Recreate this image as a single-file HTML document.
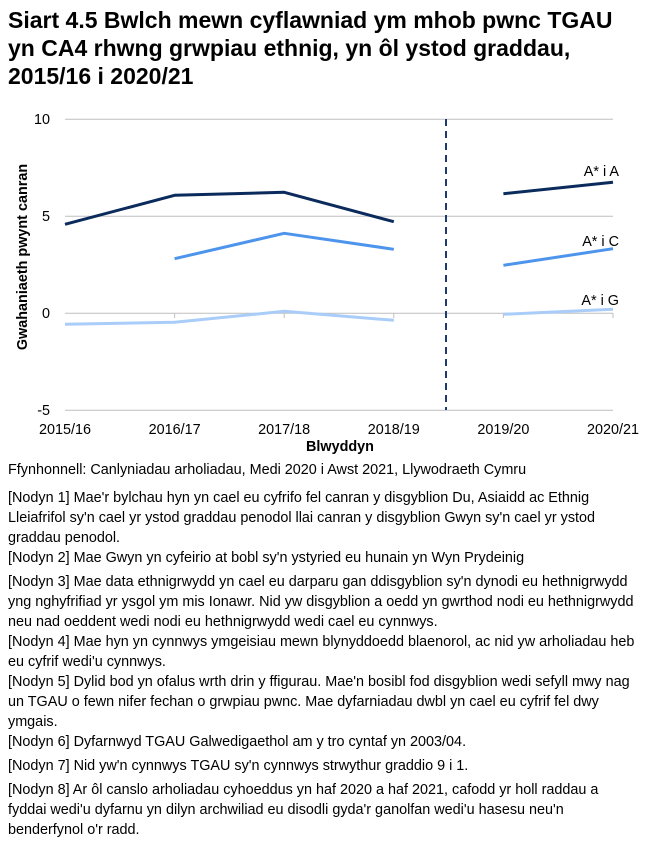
<!DOCTYPE html>
<html><head><meta charset="utf-8"><style>
body{margin:0;width:661px;height:844px;background:#fff;font-family:"Liberation Sans",Arial,sans-serif;color:#000;overflow:hidden;position:relative}
.t{position:absolute;left:8px;top:6px;font-weight:bold;font-size:23px;line-height:28px;width:630px}
.n{position:absolute;left:8px;width:628px;font-size:14.4px;line-height:20px}
</style></head><body>
<div class="t">Siart 4.5 Bwlch mewn cyflawniad ym mhob pwnc TGAU<br>yn CA4 rhwng grwpiau ethnig, yn ôl ystod graddau,<br>2015/16 i 2020/21</div>
<svg style="position:absolute;left:0;top:0" width="661" height="460" font-family="Liberation Sans, Arial, sans-serif">
<g stroke="#bfbfbf" stroke-width="1">
<line x1="65" y1="119.3" x2="613" y2="119.3"/>
<line x1="65" y1="216.3" x2="613" y2="216.3"/>
<line x1="65" y1="313.3" x2="613" y2="313.3"/>
<line x1="65" y1="410.3" x2="613" y2="410.3"/>
<line x1="174.6" y1="313" x2="174.6" y2="318"/><line x1="284.2" y1="313" x2="284.2" y2="318"/><line x1="393.8" y1="313" x2="393.8" y2="318"/><line x1="503.4" y1="313" x2="503.4" y2="318"/><line x1="613" y1="313" x2="613" y2="318"/>
</g>
<line x1="446" y1="119" x2="446" y2="410" stroke="#1f3a6e" stroke-width="2" stroke-dasharray="7,5"/>
<g fill="none" stroke-width="3" stroke-linejoin="round">
<polyline stroke="#0b2b5c" points="65,224.3 174.6,195.3 284.2,192.3 393.8,221.7"/>
<polyline stroke="#0b2b5c" points="503.4,193.7 613,182.3"/>
<polyline stroke="#4d94ec" points="174.6,258.7 284.2,233.3 393.8,249.3"/>
<polyline stroke="#4d94ec" points="503.4,265.3 613,248.7"/>
<polyline stroke="#a9cdf8" points="65,324.3 174.6,322.3 284.2,311.3 393.8,320.3"/>
<polyline stroke="#a9cdf8" points="503.4,314.3 613,309.3"/>
</g>
<g font-size="14.4" fill="#000" text-anchor="end">
<text x="50" y="124">10</text><text x="50" y="221">5</text><text x="50" y="318">0</text><text x="50" y="415">-5</text>
</g>
<g font-size="14.4" text-anchor="middle">
<text x="65" y="434">2015/16</text><text x="174.6" y="434">2016/17</text><text x="284.2" y="434">2017/18</text><text x="393.8" y="434">2018/19</text><text x="503.4" y="434">2019/20</text><text x="613" y="434">2020/21</text>
<text x="340" y="451" font-weight="bold">Blwyddyn</text>
</g>
<g font-size="14.4" text-anchor="end">
<text x="619" y="176">A* i A</text><text x="619" y="246">A* i C</text><text x="619" y="305">A* i G</text>
</g>
<text transform="translate(27,257) rotate(-90)" font-size="14.4" font-weight="bold" text-anchor="middle">Gwahaniaeth pwynt canran</text>
</svg>
<div class="n" style="top:460px">Ffynhonnell: Canlyniadau arholiadau, Medi 2020 i Awst 2021, Llywodraeth Cymru</div>
<div class="n" style="top:488px">[Nodyn 1] Mae'r bylchau hyn yn cael eu cyfrifo fel canran y disgyblion Du, Asiaidd ac Ethnig Lleiafrifol sy'n cael yr ystod graddau penodol llai canran y disgyblion Gwyn sy'n cael yr ystod graddau penodol.</div>
<div class="n" style="top:548px">[Nodyn 2] Mae Gwyn yn cyfeirio at bobl sy'n ystyried eu hunain yn Wyn Prydeinig</div>
<div class="n" style="top:572px">[Nodyn 3] Mae data ethnigrwydd yn cael eu darparu gan ddisgyblion sy'n dynodi eu hethnigrwydd yng nghyfrifiad yr ysgol ym mis Ionawr. Nid yw disgyblion a oedd yn gwrthod nodi eu hethnigrwydd neu nad oeddent wedi nodi eu hethnigrwydd wedi cael eu cynnwys.</div>
<div class="n" style="top:632px">[Nodyn 4] Mae hyn yn cynnwys ymgeisiau mewn blynyddoedd blaenorol, ac nid yw arholiadau heb eu cyfrif wedi'u cynnwys.</div>
<div class="n" style="top:672px">[Nodyn 5] Dylid bod yn ofalus wrth drin y ffigurau. Mae'n bosibl fod disgyblion wedi sefyll mwy nag un TGAU o fewn nifer fechan o grwpiau pwnc. Mae dyfarniadau dwbl yn cael eu cyfrif fel dwy ymgais.</div>
<div class="n" style="top:732px">[Nodyn 6] Dyfarnwyd TGAU Galwedigaethol am y tro cyntaf yn 2003/04.</div>
<div class="n" style="top:756px">[Nodyn 7] Nid yw'n cynnwys TGAU sy'n cynnwys strwythur graddio 9 i 1.</div>
<div class="n" style="top:780px">[Nodyn 8] Ar ôl canslo arholiadau cyhoeddus yn haf 2020 a haf 2021, cafodd yr holl raddau a fyddai wedi'u dyfarnu yn dilyn archwiliad eu disodli gyda'r ganolfan wedi'u hasesu neu'n benderfynol o'r radd.</div>
</body></html>
